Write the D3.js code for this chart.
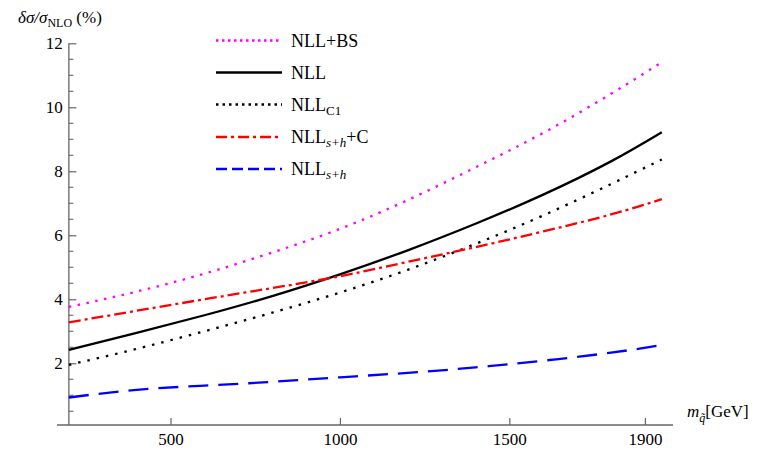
<!DOCTYPE html>
<html>
<head>
<meta charset="utf-8">
<script src="https://cdn.jsdelivr.net/npm/d3@7"></script>
<style>
  html, body { margin: 0; padding: 0; background: #fff; }
</style>
</head>
<body>
<svg id="chart" width="767" height="451"></svg>
<script>
// Squark mass grid (GeV)
const mass = [200, 400, 600, 800, 1000, 1200, 1400, 1600, 1800, 1950];

// Relative scale uncertainty delta sigma / sigma_NLO (%)
const nllBS   = [3.76, 4.24, 4.80, 5.46, 6.20, 7.10, 8.12, 9.20, 10.42, 11.41];
const nll     = [2.42, 2.95, 3.50, 4.10, 4.78, 5.53, 6.36, 7.27, 8.31, 9.22];
const nllC1   = [1.95, 2.45, 3.00, 3.58, 4.21, 4.92, 5.73, 6.62, 7.60, 8.37];
const nllShC  = [3.28, 3.64, 4.00, 4.35, 4.72, 5.17, 5.63, 6.12, 6.65, 7.13];
const nllSh   = [0.93, 1.17, 1.30, 1.42, 1.56, 1.70, 1.87, 2.08, 2.33, 2.57];

const xTicks = [500, 1000, 1500, 1900];
const yTicks = [2, 4, 6, 8, 10, 12];
const yMinorTicks = [0.5, 1, 1.5, 2.5, 3, 3.5, 4.5, 5, 5.5, 6.5, 7, 7.5, 8.5, 9, 9.5, 10.5, 11, 11.5];

const series = [
  { key: "nllBS",  values: nllBS,  color: "#ff00ff", dash: "2.5,6.5", legendDash: "2.5,3.5", label: [["NLL+BS", "n"]] },
  { key: "nll",    values: nll,    color: "#000000", dash: null,      legendDash: null,      label: [["NLL", "n"]] },
  { key: "nllC1",  values: nllC1,  color: "#000000", dash: "2.5,7",   legendDash: "2.5,4",   label: [["NLL", "n"], ["C1", "sub"]] },
  { key: "nllShC", values: nllShC, color: "#ff0000", dash: "12,4,3,4", legendDash: "11,4,3,4", label: [["NLL", "n"], ["s+h", "subi"], ["+C", "n"]] },
  { key: "nllSh",  values: nllSh,  color: "#0000ff", dash: "20,10",   legendDash: "11,5",    label: [["NLL", "n"], ["s+h", "subi"]] }
];

const SERIF = "'Liberation Serif', 'Times New Roman', Times, 'DejaVu Serif', serif";

const svg = d3.select("#chart").style("font-family", SERIF);

const x = d3.scaleLinear().domain([165, 1983]).range([57, 673]);
const y = d3.scaleLinear().domain([0.07, 12]).range([425, 43.3]);

const axisColor = "#666";
const x0 = x(200);          // vertical axis position
const yAxisPix = y(0.07);   // horizontal axis position

// Horizontal axis
const gx = svg.append("g").attr("transform", `translate(0,${yAxisPix})`);
gx.call(d3.axisBottom(x).tickValues(xTicks).tickSize(0).tickPadding(8).tickFormat(d3.format("d")));
gx.attr("font-family", null);
gx.select(".domain").attr("stroke", axisColor).attr("stroke-width", 1.3).attr("d", `M${x(165)},0H${x(1983)}`);
gx.selectAll(".tick line").remove();
gx.selectAll(".tick").append("line").attr("y1", 0).attr("y2", -7).attr("stroke", axisColor).attr("stroke-width", 1.2);
gx.selectAll(".tick text").style("font-size", "17px").style("font-family", SERIF).attr("fill", "#000");

// Vertical axis
const gy = svg.append("g").attr("transform", `translate(${x0},0)`);
gy.call(d3.axisLeft(y).tickValues(yTicks).tickSize(0).tickPadding(6).tickFormat(d3.format("d")));
gy.attr("font-family", null);
gy.select(".domain").attr("stroke", axisColor).attr("stroke-width", 1.3).attr("d", `M0,${y(12)}V${yAxisPix}`);
gy.selectAll(".tick line").remove();
gy.selectAll(".tick").append("line").attr("x1", 0).attr("x2", 7.5).attr("stroke", axisColor).attr("stroke-width", 1.2);
gy.selectAll(".tick text").style("font-size", "17px").style("font-family", SERIF).attr("fill", "#000");
gy.selectAll(".minor").data(yMinorTicks).enter().append("line")
  .attr("x1", 0).attr("x2", 4.5)
  .attr("y1", d => y(d)).attr("y2", d => y(d))
  .attr("stroke", axisColor).attr("stroke-width", 1.1);

// Curves
const line = d3.line().x(d => x(d[0])).y(d => y(d[1])).curve(d3.curveNatural);
series.forEach(s => {
  svg.append("path")
    .datum(mass.map((m, i) => [m, s.values[i]]))
    .attr("fill", "none")
    .attr("stroke", s.color)
    .attr("stroke-width", 2.3)
    .attr("stroke-dasharray", s.dash)
    .attr("d", line);
});

// Legend
const legendY = [40.5, 72.5, 104.5, 137, 169];
series.forEach((s, i) => {
  const ly = legendY[i];
  svg.append("line")
    .attr("x1", 216).attr("x2", 282).attr("y1", ly).attr("y2", ly)
    .attr("stroke", s.color).attr("stroke-width", 2.3)
    .attr("stroke-dasharray", s.legendDash);
  const t = svg.append("text").attr("x", 291).attr("y", ly + 6)
    .style("font-size", "18px").style("font-family", SERIF);
  let lowered = false;
  s.label.forEach(([txt, kind]) => {
    const ts = t.append("tspan").text(txt);
    if (kind === "sub" || kind === "subi") {
      ts.style("font-size", "13px").attr("dy", 4);
      if (kind === "subi") ts.style("font-style", "italic");
      lowered = true;
    } else if (lowered) {
      ts.attr("dy", -4);
      lowered = false;
    }
  });
});

// Vertical axis title
const yt = svg.append("text").attr("x", 18).attr("y", 23).style("font-size", "17px").style("font-family", SERIF);
yt.append("tspan").style("font-style", "italic").text("δσ/σ");
yt.append("tspan").style("font-size", "12px").attr("dy", 4).text("NLO");
yt.append("tspan").attr("dy", -4).text(" (%)");

// Horizontal axis title
const xt = svg.append("text").attr("x", 687).attr("y", 417).style("font-size", "17px").style("font-family", SERIF);
xt.append("tspan").style("font-style", "italic").text("m");
xt.append("tspan").style("font-style", "italic").style("font-size", "12px").attr("dy", 5).text("q̃");
xt.append("tspan").attr("dy", -5).text("[GeV]");
</script>
</body>
</html>
